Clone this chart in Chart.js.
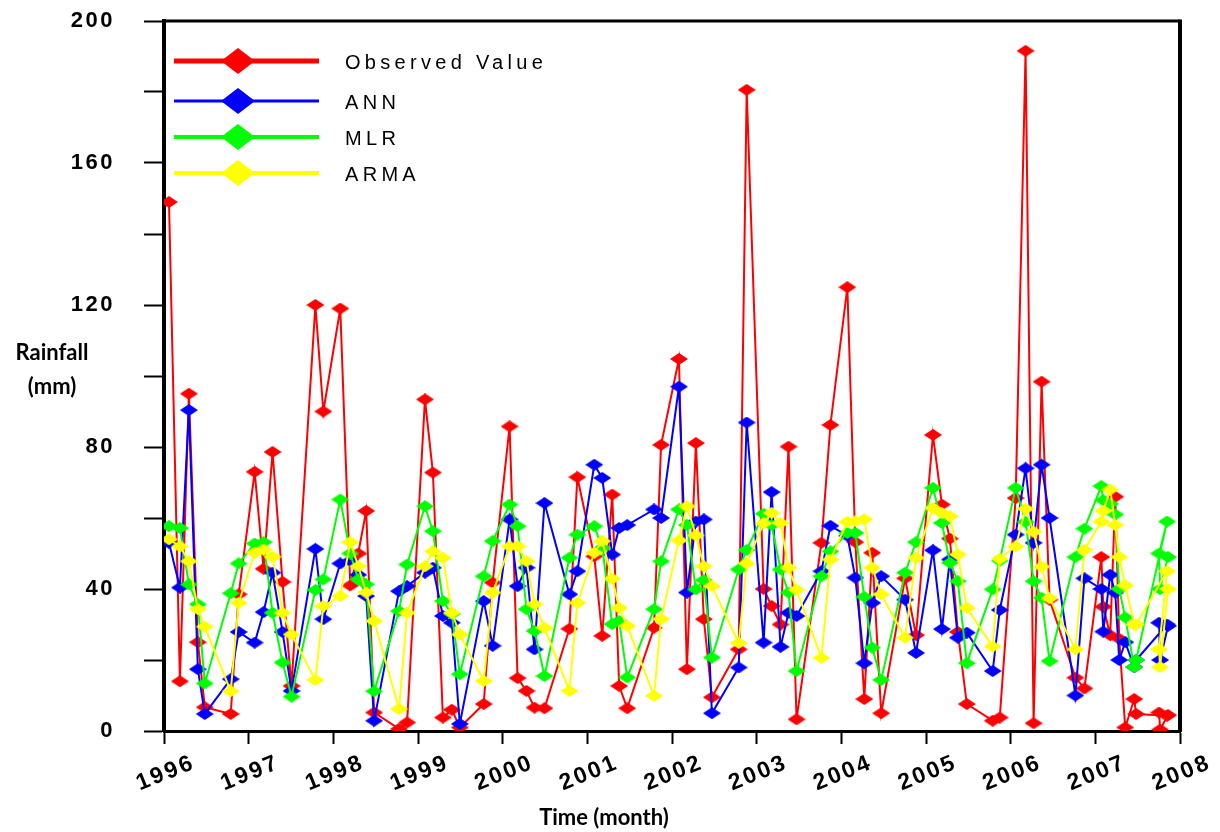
<!DOCTYPE html>
<html>
<head>
<meta charset="utf-8">
<title>Rainfall: observed vs ANN, MLR, ARMA</title>
<script src="https://cdn.jsdelivr.net/npm/chart.js@4.4.1/dist/chart.umd.min.js"></script>
<style>
  html, body { margin: 0; padding: 0; background: #fff; }
  #wrap { width: 1220px; height: 832px; position: relative; }
</style>
</head>
<body>
<div id="wrap"><canvas id="rainChart" width="1220" height="832"></canvas></div>
<script>
// time of each record, in decimal years
const months = [
  1996.059, 1996.188, 1996.294, 1996.400, 1996.482,
  1996.788, 1996.882, 1997.071, 1997.176, 1997.282, 1997.400, 1997.506,
  1997.788, 1997.882, 1998.082, 1998.200, 1998.294, 1998.388, 1998.482,
  1998.776, 1998.871, 1999.082, 1999.176, 1999.294, 1999.400, 1999.494,
  1999.776, 1999.882, 2000.082, 2000.176, 2000.282, 2000.376, 2000.494,
  2000.788, 2000.882, 2001.082, 2001.176, 2001.294, 2001.376, 2001.471,
  2001.788, 2001.871, 2002.082, 2002.176, 2002.282, 2002.376, 2002.471,
  2002.788, 2002.882, 2003.082, 2003.176, 2003.282, 2003.376, 2003.471,
  2003.765, 2003.871, 2004.071, 2004.165, 2004.271, 2004.365, 2004.471,
  2004.753, 2004.882, 2005.082, 2005.188, 2005.282, 2005.376, 2005.482,
  2005.788, 2005.871, 2006.059, 2006.176, 2006.271, 2006.365, 2006.459,
  2006.765, 2006.871, 2007.071, 2007.094, 2007.176, 2007.235, 2007.282,
  2007.353, 2007.459, 2007.482, 2007.847, 2007.753, 2007.765, 2007.859
];

const observed = [
  149, 14, 95, 25, 6.7,
  4.8, 38.5, 73, 45.7, 78.6, 42, 12.7,
  120, 90, 119, 41, 50, 62, 5.2,
  0.6, 2.4, 93.4, 72.8, 3.8, 6, 1,
  7.6, 41.8, 85.8, 14.9, 11.3, 6.6, 6.4,
  28.8, 71.5, 49.2, 26.8, 66.6, 12.7, 6.4,
  29.1, 80.6, 104.8, 17.4, 81.1, 31.5, 9.5,
  23, 180.6, 40, 35.2, 30, 80.1, 3.3,
  53, 86.2, 125, 53.2, 9, 50.2, 5,
  43, 27, 83.4, 63.8, 54.2, 27.9, 7.6,
  2.9, 3.8, 65.6, 191.6, 2.2, 98.4, 37,
  15, 12, 49, 35, 27, 66, 26,
  1, 9, 4.8, 4.3, 5.2, 0.4, 4.5
];

const ann = [
  53, 40.4, 90.4, 17.4, 4.8,
  14.6, 27.9, 24.9, 33.5, 44.6, 27.9, 11.3,
  51.3, 31.5, 47.2, 48, 44, 38, 2.9,
  39.4, 40.8, 44.6, 46, 32.4, 30.5, 2,
  36.6, 24, 59.6, 40.8, 46, 23, 64.2,
  38.5, 45, 75, 71.3, 49.7, 57.2, 58,
  62.4, 60, 97, 39, 59, 59.6, 5,
  17.9, 86.9, 24.9, 67.3, 23.7, 33.3, 32.4,
  45, 57.8, 55, 43.2, 19.1, 36.1, 43.6,
  37, 22, 50.9, 28.7, 48.3, 26.3, 27.7,
  16.9, 34.1, 55.3, 74, 53, 75, 60,
  10, 43, 40, 28, 44, 39, 20,
  25, 18, 20, 30, 30.5, 20, 29.6
];

const mlr = [
  57.7, 57.2, 41.3, 35.7, 13.4,
  38.8, 47.2, 52.8, 53.2, 33.3, 19.3, 9.7,
  39.7, 42.7, 65.2, 50, 42.7, 41.3, 11.2,
  33.8, 46.9, 63.3, 56.3, 36.6, 33, 16,
  43.6, 53.5, 63.8, 57.7, 34.3, 28.2, 15.5,
  48.8, 55.3, 57.7, 51.6, 30.1, 31, 15.1,
  34.3, 47.8, 62.4, 58, 39.9, 42.5, 20.7,
  45.5, 51, 61.2, 58, 45.5, 39, 16.9,
  43.6, 50.6, 55.8, 55.8, 37.8, 23.5, 14.4,
  44.6, 53.2, 68.5, 58.6, 47.4, 42.2, 19.1,
  39.9, 48, 68.5, 58.9, 42.2, 37.5, 19.7,
  49, 57, 69, 65, 64, 61, 40,
  32, 18, 20, 59, 50, 40, 49
];

const arma = [
  54, 52, 47.8, 34.3, 29.4,
  11.2, 36.1, 50.2, 51.1, 49.1, 33.3, 27.2,
  14.4, 35.2, 38, 53.2, 46.4, 39, 31,
  6.2, 33.3, 46.4, 50.6, 48.8, 33.3, 27.2,
  14.1, 39, 52, 52, 47.8, 35.7, 29.1,
  11.3, 36.1, 50.2, 53.5, 42.9, 34.7, 29.6,
  9.9, 31.5, 53.7, 63.3, 55.1, 46.4, 40.8,
  24.8, 47.2, 58.5, 61.4, 58.6, 46, 39.8,
  20.6, 48.3, 58.9, 59.1, 59.6, 46, 38.5,
  26.3, 48.8, 62.8, 61.4, 60.5, 49.7, 34.7,
  23.8, 48.5, 52, 62.6, 56.1, 46.3, 37.4,
  23, 51, 59, 62, 68, 58, 49,
  41, 30, 30, 45, 23, 18, 40
];

const seriesNames = ["Observed Value", "ANN", "MLR", "ARMA"];
const seriesColors = ["#ff0000", "#0000ff", "#00ff00", "#ffff00"];
const yearMin = 1996, yearMax = 2008;
const rainMin = 0, rainMax = 200;

// wide diamond marker, like the original plot
function diamond(color, w, h) {
  const c = document.createElement("canvas");
  c.width = w; c.height = h;
  const g = c.getContext("2d");
  g.fillStyle = color;
  g.beginPath();
  g.moveTo(w / 2, 0);
  g.lineTo(w, h / 2);
  g.lineTo(w / 2, h);
  g.lineTo(0, h / 2);
  g.closePath();
  g.fill();
  return c;
}

function toPoints(vals) {
  return vals.map((v, i) => ({ x: months[i], y: v }));
}

const allSeries = [observed, ann, mlr, arma];
const datasets = allSeries.map((vals, i) => ({
  label: seriesNames[i],
  data: toPoints(vals),
  borderColor: seriesColors[i],
  backgroundColor: seriesColors[i],
  borderWidth: 2,
  tension: 0,
  pointStyle: diamond(seriesColors[i], 18, 12),
  pointRadius: 8,
  order: 3 - i
}));

// tick labels in the original are a little spaced out
const tickSpacing = {
  id: "tickSpacing",
  beforeLayout(chart) { chart.ctx.letterSpacing = "2.5px"; },
  beforeDraw(chart) { chart.ctx.letterSpacing = "2.5px"; }
};

// legend, frame and axis titles drawn by hand
const extras = {
  id: "extras",
  afterDraw(chart) {
    const ctx = chart.ctx;
    const a = chart.chartArea;
    ctx.save();
    // top and right border
    ctx.strokeStyle = "#000";
    ctx.lineWidth = 3;
    ctx.beginPath();
    ctx.moveTo(a.left, a.top);
    ctx.lineTo(a.right, a.top);
    ctx.stroke();
    ctx.lineWidth = 4;
    ctx.beginPath();
    ctx.moveTo(a.right, a.top - 1.5);
    ctx.lineTo(a.right, a.bottom + 1);
    ctx.stroke();

    // legend
    const rows = [61, 101, 137, 173];
    const widths = [5, 3, 4, 4];
    for (let i = 0; i < 4; i++) {
      ctx.strokeStyle = seriesColors[i];
      ctx.lineWidth = widths[i];
      ctx.beginPath();
      ctx.moveTo(174, rows[i]);
      ctx.lineTo(319, rows[i]);
      ctx.stroke();
      const d = diamond(seriesColors[i], 34, 26);
      ctx.drawImage(d, 238 - 17, rows[i] - 13);
      ctx.fillStyle = "#000";
      ctx.font = "20px 'Liberation Sans', Arial, sans-serif";
      ctx.letterSpacing = "4.3px";
      ctx.textAlign = "left";
      ctx.textBaseline = "middle";
      ctx.fillText(seriesNames[i], 345, rows[i] + 2);
    }
    ctx.letterSpacing = "0px";

    // axis titles
    ctx.fillStyle = "#000";
    ctx.font = "bold 22px Lato, 'Open Sans', sans-serif";
    ctx.textAlign = "center";
    ctx.textBaseline = "middle";
    ctx.fillText("Rainfall", 52, 353);
    ctx.fillText("(mm)", 52, 387);
    ctx.fillText("Time (month)", 604, 818);
    ctx.restore();
    ctx.letterSpacing = "2.5px";
  }
};

new Chart(document.getElementById("rainChart"), {
  type: "line",
  data: { datasets: datasets },
  options: {
    responsive: false,
    animation: false,
    layout: { padding: { top: 21, right: 40, left: 0, bottom: 0 } },
    plugins: { legend: { display: false }, tooltip: { enabled: false } },
    scales: {
      x: {
        type: "linear",
        min: yearMin,
        max: yearMax,
        afterFit(s) { s.height = 101; },
        ticks: {
          stepSize: 1,
          minRotation: 22,
          maxRotation: 22,
          labelOffset: 30,
          padding: 5,
          color: "#000",
          font: { family: "'Liberation Sans', Arial, sans-serif", size: 23, weight: "bold" },
          callback: (v) => String(v)
        },
        grid: { drawOnChartArea: false, drawTicks: true, tickLength: 13, tickWidth: 2, tickColor: "#000" },
        border: { color: "#000", width: 3 }
      },
      y: {
        min: rainMin,
        max: rainMax,
        afterFit(s) {
          s.width = 164;
          s.paddingTop = 0;
          s.paddingBottom = 0;
        },
        ticks: {
          stepSize: 20,
          padding: 29,
          color: "#000",
          font: { family: "'Liberation Sans', Arial, sans-serif", size: 22, weight: "bold" },
          callback: (v) => (v % 40 === 0 ? String(v) : "")
        },
        grid: { drawOnChartArea: false, drawTicks: true, tickLength: 20, tickWidth: 2, tickColor: "#000" },
        border: { color: "#000", width: 4 }
      }
    }
  },
  plugins: [tickSpacing, extras]
});
</script>
</body>
</html>
